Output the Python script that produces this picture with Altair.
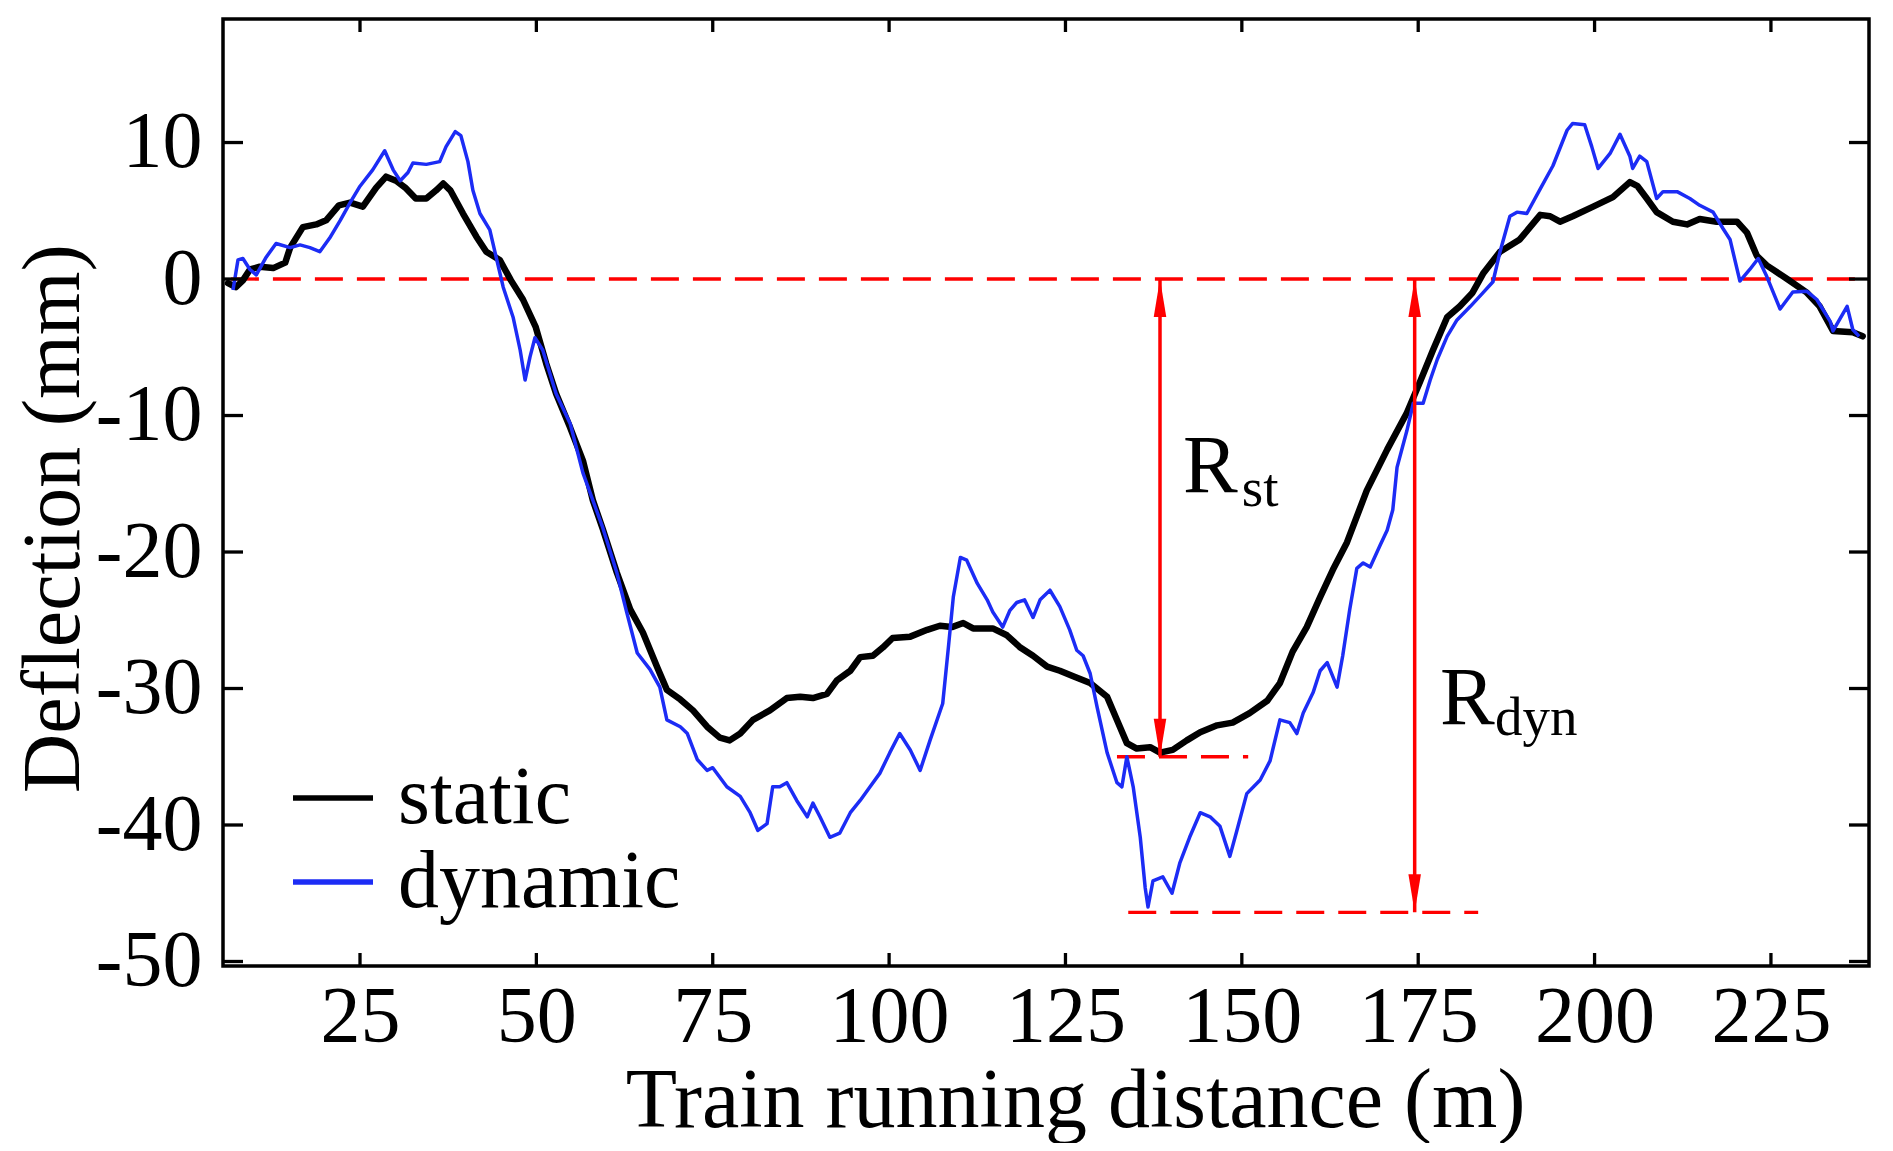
import altair as alt
import pandas as pd

# ---------------- data ----------------
static_x = [6.3, 7.4, 8.4, 9.4, 10.8, 12.7, 14.4, 15.1, 16.9, 18.8, 20.2, 22.0, 23.6, 25.4, 27.3,
            28.7, 30.1, 31.4, 32.9, 34.4, 35.8, 36.8, 37.8, 39.6, 41.5, 42.9, 44.8, 46.4, 48.1,
            49.9, 51.4, 52.8, 54.8, 56.6, 58.0, 59.4, 61.4, 63.3, 65.1, 67.1, 68.5, 70.4, 72.2,
            74.2, 76.0, 77.4, 78.9, 80.7, 83.1, 85.5, 87.4, 89.2, 91.2, 92.6, 94.5, 95.9, 97.7,
            99.1, 100.5, 103.0, 105.4, 107.2, 108.9, 110.5, 111.9, 114.7, 116.7, 118.6, 120.4,
            122.4, 124.2, 126.1, 128.5, 130.9, 132.3, 133.7, 135.1, 137.0, 138.4, 140.2, 142.2,
            144.1, 146.5, 148.7, 151.1, 153.6, 155.4, 157.2, 159.2, 161.1, 162.9, 164.9, 167.7,
            170.6, 173.4, 175.2, 177.1, 179.1, 180.9, 182.7, 184.2, 186.6, 189.4, 192.3, 193.7,
            195.1, 196.9, 199.8, 202.6, 205.0, 206.1, 207.4, 208.8, 211.1, 213.1, 214.9, 217.3,
            220.2, 221.6, 223.0, 224.4, 227.3, 230.1, 231.9, 233.8, 236.6, 238.0]
static_y = [-0.3, -0.6, -0.1, 0.7, 0.9, 0.8, 1.2, 2.3, 3.8, 4.0, 4.3, 5.4, 5.6, 5.3, 6.7,
            7.5, 7.2, 6.7, 5.9, 5.9, 6.5, 7.0, 6.5, 4.8, 3.1, 2.0, 1.4, -0.1, -1.5,
            -3.5, -6.2, -8.4, -10.9, -13.3, -16.2, -18.3, -21.5, -24.2, -25.9, -28.4, -30.1, -30.8, -31.6,
            -32.8, -33.6, -33.8, -33.3, -32.3, -31.6, -30.7, -30.6, -30.7, -30.4, -29.4, -28.7, -27.7, -27.6,
            -27.0, -26.3, -26.2, -25.7, -25.4, -25.5, -25.2, -25.6, -25.6, -26.1, -27.0, -27.6,
            -28.4, -28.7, -29.1, -29.6, -30.6, -32.3, -34.0, -34.4, -34.3, -34.7, -34.5, -33.8,
            -33.2, -32.7, -32.5, -31.8, -30.9, -29.6, -27.3, -25.5, -23.3, -21.3, -19.3, -15.5,
            -12.5, -9.8, -7.6, -5.2, -2.8, -2.0, -1.0, 0.4, 2.0, 2.9, 4.7, 4.6,
            4.2, 4.6, 5.3, 6.0, 7.1, 6.8, 5.9, 4.9, 4.2, 4.0, 4.4, 4.2,
            4.2, 3.4, 1.7, 1.0, 0.0, -1.0, -2.0, -3.8, -3.9, -4.2]

dynamic_x = [7.0, 7.7, 8.4, 9.4, 10.3, 11.7, 13.1, 15.1, 16.5, 17.9, 19.3, 20.7, 22.2, 23.6, 25.0,
             26.8, 28.5, 29.7, 30.7, 31.8, 32.5, 34.4, 36.3, 37.2, 38.5, 39.3, 40.3, 41.0, 42.0,
             43.4, 44.3, 45.3, 46.7, 47.7, 48.4, 49.1, 49.8, 50.9, 52.8, 54.8, 56.6, 59.4, 61.4,
             62.8, 64.3, 66.1, 67.5, 68.5, 70.4, 71.4, 72.8, 74.2, 75.0, 77.0, 78.9, 80.3, 81.4,
             82.7, 83.5, 84.5, 85.5, 86.9, 88.4, 89.2, 90.2, 91.6, 93.0, 94.5, 95.9, 97.3, 98.7,
             100.1, 101.5, 103.0, 104.4, 105.8, 107.6, 108.4, 109.1, 110.1, 111.0, 112.5, 113.9,
             114.7, 116.1, 117.1, 118.1, 119.2, 120.4, 121.4, 122.8, 124.2, 125.6, 126.6, 127.5,
             128.5, 129.5, 130.9, 132.3, 133.0, 133.7, 134.6, 135.6, 136.3, 136.7, 137.4, 138.8,
             140.1, 141.2, 142.6, 144.1, 145.5, 146.9, 148.3, 149.3, 150.7, 152.6, 154.0, 155.4,
             156.8, 157.8, 158.7, 160.1, 161.1, 162.1, 163.5, 164.3, 165.3, 166.3, 167.2, 168.2,
             169.6, 170.6, 171.4, 172.0, 173.4, 174.3, 175.7, 176.7, 177.7, 179.1, 180.5, 182.4,
             184.2, 185.6, 186.6, 188.0, 189.0, 190.4, 192.3, 194.1, 196.1, 196.9, 198.6, 199.6,
             200.5, 202.2, 203.6, 205.0, 205.4, 206.4, 207.4, 208.8, 209.7, 211.7, 213.5, 214.9,
             216.8, 218.2, 219.2, 220.6, 222.0, 223.2, 224.4, 226.3, 228.1, 230.1, 231.5, 233.4,
             233.8, 235.8, 236.6, 237.5]
dynamic_y = [-0.8, 1.4, 1.5, 0.7, 0.3, 1.6, 2.6, 2.3, 2.5, 2.3, 2.0, 3.0, 4.3, 5.6, 6.8,
             8.0, 9.4, 8.0, 7.2, 7.8, 8.5, 8.4, 8.6, 9.7, 10.8, 10.5, 8.6, 6.5, 4.8,
             3.6, 1.6, -0.6, -2.8, -5.2, -7.4, -5.7, -4.3, -5.2, -8.4, -10.6, -14.2, -18.2, -21.5,
             -24.4, -27.4, -28.6, -29.9, -32.3, -32.8, -33.3, -35.2, -36.0, -35.8, -37.2, -37.9, -39.1, -40.4,
             -39.9, -37.2, -37.2, -36.9, -38.2, -39.4, -38.4, -39.4, -40.9, -40.6, -39.1, -38.2, -37.2, -36.2,
             -34.7, -33.3, -34.5, -36.0, -33.8, -31.1, -27.0, -23.3, -20.4, -20.6, -22.3, -23.5,
             -24.4, -25.5, -24.3, -23.7, -23.5, -24.8, -23.5, -22.8, -24.0, -25.7, -27.2, -27.6,
             -28.9, -31.4, -34.7, -36.9, -37.2, -35.0, -37.2, -40.9, -44.6, -46.0, -44.1, -43.8,
             -45.0, -42.8, -40.9, -39.1, -39.4, -40.1, -42.3, -40.4, -37.7, -36.7, -35.3, -32.3,
             -32.5, -33.3, -31.8, -30.3, -28.7, -28.1, -29.9, -27.6, -24.2, -21.2, -20.8, -21.1,
             -19.5, -18.4, -16.9, -13.8, -11.1, -9.1, -9.1, -7.4, -5.9, -4.2, -3.0, -2.0,
             -1.0, -0.2, 2.0, 4.6, 4.9, 4.8, 6.6, 8.3, 10.9, 11.4, 11.3, 9.7,
             8.1, 9.2, 10.6, 9.0, 8.1, 9.0, 8.6, 5.9, 6.4, 6.4, 5.9, 5.4,
             4.9, 3.7, 2.9, -0.15, 0.7, 1.5, 0.2, -2.2, -0.95, -0.9, -1.5, -3.1,
             -3.8, -2.0, -3.7, -4.2]

series_names = ["static", "dynamic"]

x_ticks = [25, 50, 75, 100, 125, 150, 175, 200, 225]
y_ticks = [-50, -40, -30, -20, -10, 0, 10]

# red dashed reference lines: level, start, end
ref_y = [0.0, -35.0, -46.4]
ref_x_start = [6.7, 132.3, 133.9]
ref_x_end = [237.6, 150.9, 183.5]

# double arrows R_st and R_dyn
arrow_x = [138.4, 174.5]
arrow_top = [0.0, 0.0]
arrow_bottom = [-35.0, -46.4]

# annotation texts
label_main = ["R", "R"]
label_x = [141.65, 178.1]
label_y = [-15.6, -32.6]
label_sub = ["st", "dyn"]
sub_x = [150.0, 185.9]
sub_y = [-16.6, -33.4]

# ---------------- styling ----------------
W, H = 1646, 947
FONT = "Liberation Serif"
BLUE = "#1c2cf5"
RED = "#ff0000"

xs = alt.Scale(domain=[5.58, 238.9], nice=False, zero=False)
ys = alt.Scale(domain=[-50.33, 19.05], nice=False, zero=False)
color_scale = alt.Scale(domain=series_names, range=["black", BLUE])

curves = pd.DataFrame({
    "x": static_x + dynamic_x,
    "y": static_y + dynamic_y,
    "series": ["static"] * len(static_x) + ["dynamic"] * len(dynamic_x),
})

x_axis = alt.Axis(values=x_ticks, title="Train running distance (m)", ticks=False, tickSize=0,
                  domain=False, grid=False, labelFont=FONT, labelFontSize=80, labelColor="black",
                  labelPadding=75, labelBaseline="alphabetic", labelFlush=False, labelOverlap=False,
                  labelExpr="'' + datum.value",
                  titleFont=FONT, titleFontSize=84, titleFontWeight="normal", titleColor="black",
                  titleX=852, titleY=160, titleBaseline="alphabetic", titleAlign="center")
y_axis = alt.Axis(values=y_ticks, title="Deflection (mm)", ticks=False, tickSize=0,
                  domain=False, grid=False, labelFont=FONT, labelFontSize=80, labelColor="black",
                  labelPadding=21, labelFlush=False, labelOverlap=False,
                  labelExpr="'' + datum.value",
                  titleFont=FONT, titleFontSize=82, titleFontWeight="normal", titleColor="black",
                  titleX=-145, titleY=499, titleAngle=270, titleBaseline="alphabetic",
                  titleAlign="center")


def X(field):
    return alt.X(field, scale=xs, axis=x_axis)


def Y(field):
    return alt.Y(field, scale=ys, axis=y_axis)


legend = alt.Legend(title=None, orient="none", legendX=67, legendY=736, symbolType="stroke",
                    symbolSize=6400, symbolStrokeWidth=5.5, labelFont=FONT, labelFontSize=82,
                    labelColor="black", labelOffset=22, rowPadding=0, padding=0, labelLimit=0)

base = alt.Chart(curves)
static_layer = base.transform_filter(alt.datum.series == "static").mark_line(
    strokeWidth=6.5, strokeJoin="round", strokeCap="round").encode(
    x=X("x:Q"), y=Y("y:Q"),
    color=alt.Color("series:N", scale=color_scale, legend=legend),
)
dynamic_layer = base.transform_filter(alt.datum.series == "dynamic").mark_line(
    strokeWidth=3.5, strokeJoin="round").encode(
    x=X("x:Q"), y=Y("y:Q"),
    color=alt.Color("series:N", scale=color_scale, legend=legend),
)

refs = pd.DataFrame({"y": ref_y, "x1": ref_x_start, "x2": ref_x_end})
ref_layer = alt.Chart(refs).mark_rule(color=RED, strokeWidth=3.3, strokeDash=[28, 14]).encode(
    x=X("x1:Q"), x2="x2:Q", y=Y("y:Q"),
)

arrows = pd.DataFrame({"x": arrow_x, "top": arrow_top, "bottom": arrow_bottom})
arrow_shaft = alt.Chart(arrows).mark_rule(color=RED, strokeWidth=3.5).encode(
    x=X("x:Q"), y=Y("top:Q"), y2="bottom:Q",
)
head_up = alt.Chart(arrows).mark_point(
    shape="M0,-1L0.33,1L-0.33,1Z", size=1444, filled=True, opacity=1, color=RED,
    strokeWidth=0, yOffset=19).encode(x=X("x:Q"), y=Y("top:Q"))
head_down = alt.Chart(arrows).mark_point(
    shape="M0,1L0.33,-1L-0.33,-1Z", size=1444, filled=True, opacity=1, color=RED,
    strokeWidth=0, yOffset=-19).encode(x=X("x:Q"), y=Y("bottom:Q"))

labels = pd.DataFrame({"t": label_main, "x": label_x, "y": label_y,
                       "s": label_sub, "sx": sub_x, "sy": sub_y})
main_text = alt.Chart(labels).mark_text(font=FONT, fontSize=82, align="left",
                                        baseline="alphabetic", color="black").encode(
    x=X("x:Q"), y=Y("y:Q"), text="t:N")
sub_text = alt.Chart(labels).mark_text(font=FONT, fontSize=55, align="left",
                                       baseline="alphabetic", color="black").encode(
    x=X("sx:Q"), y=Y("sy:Q"), text="s:N")

xt = pd.DataFrame({"v": x_ticks})
yt = pd.DataFrame({"v": y_ticks})
tick_style = dict(color="black", strokeWidth=3.3)
bottom_ticks = alt.Chart(xt).mark_rule(**tick_style).encode(
    x=X("v:Q"), y=alt.value(H), y2=alt.value(H - 13))
top_ticks = alt.Chart(xt).mark_rule(**tick_style).encode(
    x=X("v:Q"), y=alt.value(0), y2=alt.value(13))
left_ticks = alt.Chart(yt).mark_rule(**tick_style).encode(
    y=Y("v:Q"), x=alt.value(0), x2=alt.value(20))
right_ticks = alt.Chart(yt).mark_rule(**tick_style).encode(
    y=Y("v:Q"), x=alt.value(W - 20), x2=alt.value(W))

chart = alt.layer(
    ref_layer, static_layer, dynamic_layer, arrow_shaft, head_up, head_down,
    main_text, sub_text, bottom_ticks, top_ticks, left_ticks, right_ticks,
).properties(
    width=W, height=H,
    autosize=alt.AutoSizeParams(type="none"),
    padding={"left": 215, "top": 11, "right": 16, "bottom": 177},
    background="white",
).configure_view(stroke="black", strokeWidth=3.5)

chart.save("out.html", embed_options={"renderer": "svg", "actions": False})
